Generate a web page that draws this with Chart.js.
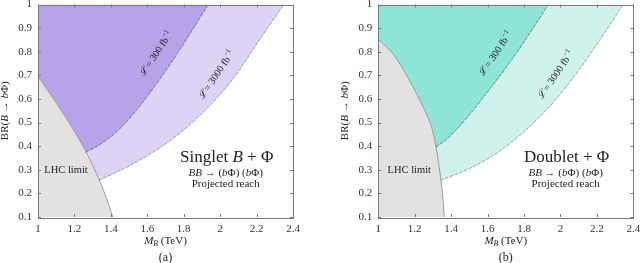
<!DOCTYPE html>
<html>
<head>
<meta charset="utf-8">
<script src="https://cdn.jsdelivr.net/npm/chart.js@4.4.1/dist/chart.umd.min.js"></script>
<style>
html, body { margin: 0; padding: 0; background: #fff; }
#wrap { display: flex; width: 640px; height: 263px; }
canvas { display: block; }
</style>
</head>
<body>
<div id="wrap">
  <canvas id="chartA" width="320" height="263"></canvas>
  <canvas id="chartB" width="320" height="263"></canvas>
</div>
<script>
// tick values shared by both panels
const massTicks = [1, 1.2, 1.4, 1.6, 1.8, 2, 2.2, 2.4];
const brTicks = [0.1, 0.2, 0.3, 0.4, 0.5, 0.6, 0.7, 0.8, 0.9, 1];

// (a) singlet B + Phi
const lhcMassA = [1, 1.05, 1.108, 1.19, 1.264, 1.337, 1.383, 1.41];
const lhcBrA = [0.697, 0.64, 0.574, 0.475, 0.376, 0.256, 0.164, 0.1];
const reach300MassA = [1.264, 1.33, 1.40, 1.47, 1.54, 1.62, 1.70, 1.78, 1.86, 1.935];
const reach300BrA = [0.376, 0.402, 0.44, 0.49, 0.552, 0.632, 0.718, 0.81, 0.908, 1.0];
const reach3000MassA = [1.337, 1.45, 1.538, 1.67, 1.80, 1.945, 2.08, 2.22, 2.35];
const reach3000BrA = [0.256, 0.297, 0.332, 0.394, 0.469, 0.573, 0.695, 0.855, 1.0];

// (b) doublet + Phi
const lhcMassB = [1, 1.079, 1.17, 1.25, 1.289, 1.317, 1.344, 1.355, 1.362];
const lhcBrB = [0.852, 0.793, 0.68, 0.56, 0.489, 0.397, 0.256, 0.18, 0.1];
const reach300MassB = [1.317, 1.37, 1.43, 1.50, 1.58, 1.66, 1.74, 1.82, 1.934];
const reach300BrB = [0.397, 0.426, 0.471, 0.533, 0.611, 0.69, 0.775, 0.865, 1.0];
const reach3000MassB = [1.344, 1.45, 1.537, 1.62, 1.70, 1.80, 1.943, 2.08, 2.217, 2.345];
const reach3000BrB = [0.256, 0.288, 0.319, 0.356, 0.398, 0.461, 0.57, 0.70, 0.851, 1.0];

const SERIF = '"Liberation Serif", "DejaVu Serif", "Times New Roman", serif';

function zip(xs, ys) {
    return xs.map((x, i) => ({ x: x, y: ys[i] }));
}

// draw a list of text runs: [text, style]; style: '' | 'i' | 'sub' | 'sup'
function drawRuns(ctx, runs, x, y, size, angle) {
    const parts = runs.map(([t, s]) => {
        const small = s === 'sub' || s === 'sup';
        const sz = small ? size * 0.7 : size;
        const italic = s === 'i' || s === 'sub';
        const font = (italic ? 'italic ' : '') + sz + 'px ' + SERIF;
        ctx.font = font;
        const dy = s === 'sub' ? size * 0.28 : s === 'sup' ? -size * 0.38 : 0;
        return { t, font, dy, w: ctx.measureText(t).width };
    });
    const total = parts.reduce((a, p) => a + p.w, 0);
    ctx.save();
    ctx.translate(x, y);
    ctx.rotate(angle || 0);
    ctx.textBaseline = 'middle';
    ctx.textAlign = 'left';
    ctx.fillStyle = '#222';
    let cx = -total / 2;
    parts.forEach(p => {
        ctx.font = p.font;
        ctx.fillText(p.t, cx, p.dy);
        cx += p.w;
    });
    ctx.restore();
}

function buildPanel(canvasId, p) {
    const lhc = zip(p.lhcMass, p.lhcBr);
    const r300 = zip(p.reach300Mass, p.reach300Br);
    const r3000 = zip(p.reach3000Mass, p.reach3000Br);
    // fill outlines: LHC curve up to the junction, then the reach curve
    const darkEdge = lhc.filter(pt => pt.x <= p.reach300Mass[0]).concat(r300);
    const lightEdge = lhc.filter(pt => pt.x <= p.reach3000Mass[0]).concat(r3000);

    const common = { pointRadius: 0, tension: 0.3, borderCapStyle: 'round' };

    const decor = {
        id: 'decor',
        afterDraw(chart) {
            const ctx = chart.ctx;
            const a = chart.chartArea;
            const xs = chart.scales.x, ys = chart.scales.y;

            // frame and inward ticks
            ctx.save();
            ctx.strokeStyle = '#7a7a7a';
            ctx.lineWidth = 1;
            ctx.strokeRect(Math.round(a.left) + 0.5, Math.round(a.top) + 0.5,
                Math.round(a.right - a.left), Math.round(a.bottom - a.top));
            ctx.beginPath();
            massTicks.forEach(v => {
                const px = Math.round(xs.getPixelForValue(v)) + 0.5;
                ctx.moveTo(px, a.bottom); ctx.lineTo(px, a.bottom - 3);
                ctx.moveTo(px, a.top); ctx.lineTo(px, a.top + 3);
            });
            brTicks.forEach(v => {
                const py = Math.round(ys.getPixelForValue(v)) + 0.5;
                ctx.moveTo(a.left, py); ctx.lineTo(a.left + 3, py);
                ctx.moveTo(a.right, py); ctx.lineTo(a.right - 3, py);
            });
            ctx.stroke();
            ctx.restore();

            const at = (mx, br) => [xs.getPixelForValue(mx), ys.getPixelForValue(br)];
            const rot = -56 * Math.PI / 180;

            let [x, y] = at(p.lab300[0], p.lab300[1]);
            drawRuns(ctx, [['\u2112', 'i'], [' = 300 fb', ''], ['\u22121', 'sup']], x, y, 10, rot);
            [x, y] = at(p.lab3000[0], p.lab3000[1]);
            drawRuns(ctx, [['\u2112', 'i'], [' = 3000 fb', ''], ['\u22121', 'sup']], x, y, 10, rot);
            [x, y] = at(p.labLhc[0], p.labLhc[1]);
            drawRuns(ctx, [['LHC limit', '']], x, y, 10.5);

            [x, y] = at(p.labTitle[0], p.labTitle[1]);
            drawRuns(ctx, p.titleRuns, x, y, 17);
            drawRuns(ctx, [['BB', 'i'], [' \u2192 (', ''], ['b', 'i'], ['\u03A6) (', ''], ['b', 'i'], ['\u03A6)', '']],
                x - 1, y + 15, 11);
            drawRuns(ctx, [['Projected reach', '']], x - 1, y + 26.5, 11);

            // axis titles
            const midX = (a.left + a.right) / 2;
            drawRuns(ctx, [['M', 'i'], ['B', 'sub'], [' (TeV)', '']], midX, a.bottom + 24, 11);
            drawRuns(ctx, [[p.tag, '']], midX, a.bottom + 41, 12);
            drawRuns(ctx, [['BR(', ''], ['B', 'i'], [' \u2192 ', ''], ['b', 'i'], ['\u03A6)', '']],
                a.left - 33, (a.top + a.bottom) / 2, 11, -Math.PI / 2);
        }
    };

    return new Chart(document.getElementById(canvasId), {
        type: 'line',
        data: {
            datasets: [
                Object.assign({ label: '300 fb-1', data: r300, borderColor: 'rgba(80,75,100,0.75)',
                    borderWidth: 0.9, borderDash: [3, 2], fill: false, order: 1 }, common),
                Object.assign({ label: '3000 fb-1', data: r3000, borderColor: 'rgba(110,110,110,0.7)',
                    borderWidth: 0.9, borderDash: [3, 2], fill: false, order: 1 }, common),
                Object.assign({ label: 'LHC limit', data: lhc, borderColor: '#9a9a9a', borderWidth: 1,
                    backgroundColor: '#e4e2e1', fill: 'start', order: 2 }, common),
                Object.assign({ label: '300 reach', data: darkEdge, borderWidth: 0,
                    backgroundColor: p.dark, fill: 'end', order: 3 }, common),
                Object.assign({ label: '3000 reach', data: lightEdge, borderWidth: 0,
                    backgroundColor: p.light, fill: 'end', order: 4 }, common)
            ]
        },
        options: {
            responsive: false,
            animation: false,
            devicePixelRatio: 1,
            layout: { padding: p.padding },
            plugins: { legend: { display: false }, tooltip: { enabled: false } },
            scales: {
                x: {
                    type: 'linear', min: 1, max: 2.4, z: 1,
                    afterBuildTicks: s => { s.ticks = massTicks.map(v => ({ value: v })); },
                    afterFit: s => { s.height = 46; s.paddingLeft = 0; s.paddingRight = 0; },
                    ticks: { font: { family: SERIF, size: 11 }, color: '#333', padding: 6,
                        maxRotation: 0, callback: v => String(v) },
                    grid: { color: 'rgba(255,255,255,0.55)', drawTicks: false },
                    border: { display: false, dash: [2, 2] }
                },
                y: {
                    type: 'linear', min: 0.1, max: 1, z: 1,
                    afterBuildTicks: s => { s.ticks = brTicks.map(v => ({ value: v })); },
                    afterFit: s => { s.width = 38; s.paddingTop = 0; s.paddingBottom = 0; },
                    ticks: { font: { family: SERIF, size: 11 }, color: '#333', padding: 6,
                        callback: v => String(v) },
                    grid: { color: 'rgba(255,255,255,0.55)', drawTicks: false },
                    border: { display: false, dash: [2, 2] }
                }
            }
        },
        plugins: [decor]
    });
}

buildPanel('chartA', {
    lhcMass: lhcMassA, lhcBr: lhcBrA,
    reach300Mass: reach300MassA, reach300Br: reach300BrA,
    reach3000Mass: reach3000MassA, reach3000Br: reach3000BrA,
    dark: '#b6a3e8', light: '#ddd3f5',
    lab300: [1.65, 0.79], lab3000: [1.98, 0.70], labLhc: [1.154, 0.30], labTitle: [2.036, 0.35],
    titleRuns: [['Singlet ', ''], ['B', 'i'], [' + \u03A6', '']],
    tag: '(a)',
    padding: { left: 0, right: 27, top: 4.5, bottom: 0 }
});

buildPanel('chartB', {
    lhcMass: lhcMassB, lhcBr: lhcBrB,
    reach300Mass: reach300MassB, reach300Br: reach300BrB,
    reach3000Mass: reach3000MassB, reach3000Br: reach3000BrB,
    dark: '#8ee4d5', light: '#cff2ed',
    lab300: [1.645, 0.79], lab3000: [1.975, 0.70], labLhc: [1.17, 0.30], labTitle: [2.034, 0.35],
    titleRuns: [['Doublet + \u03A6', '']],
    tag: '(b)',
    padding: { left: 20.3, right: 6.7, top: 4.5, bottom: 0 }
});
</script>
</body>
</html>
